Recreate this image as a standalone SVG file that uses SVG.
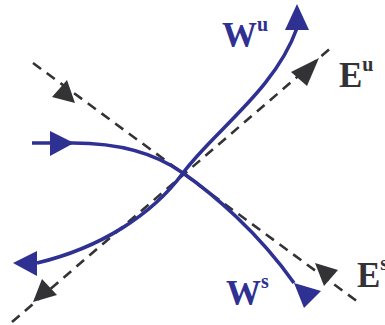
<svg xmlns="http://www.w3.org/2000/svg" width="385" height="325" viewBox="0 0 385 325">
<style>
.dash{fill:none;stroke:#333336;stroke-width:2.6;stroke-dasharray:10 7}
.curve{fill:none;stroke:#2e3192;stroke-width:3.6;stroke-linecap:butt}
.ah-d{fill:#333336}
.ah-b{fill:#2e3192}
.lbl{font-family:"Liberation Serif","Times New Roman",serif;font-weight:bold}
.blue{fill:#2e3192}
.gray{fill:#333336}
</style>
<rect width="385" height="325" fill="#ffffff"/>
<g id="connectors">
<line id="Eu-line" class="dash" x1="12" y1="322" x2="332" y2="47"/>
<line id="Es-line" class="dash" x1="33" y1="63" x2="358" y2="302"/>
<polygon class="ah-d" points="319,58 291,72 307,86"/>
<polygon class="ah-d" points="33,302 42,279 57,295"/>
<polygon class="ah-d" points="75,103 67,80 52,97"/>
<polygon class="ah-d" points="315,263 338,270 324,286"/>
<path id="Wu-curve" class="curve" d="M37,263 C100,248 152,215 183,173 C214,131 275,90 297,28"/>
<path id="Ws-curve" class="curve" d="M32,143 L73,143 C120,143 155,153 183,173 C213,194 258,232 294,283"/>
<polygon class="ah-b" points="297,4 285,30 309,30"/>
<polygon class="ah-b" points="13,263 37,251 37,276"/>
<polygon class="ah-b" points="74,143 50,131 50,156"/>
<polygon class="ah-b" points="294,283 321,291 304,308"/>
</g>
<g id="Wu-label"><text class="lbl blue" x="222" y="47" font-size="35">W<tspan font-size="20" dy="-16">u</tspan></text></g>
<g id="Eu-label"><text class="lbl gray" x="339" y="87" font-size="35">E<tspan font-size="20" dy="-16">u</tspan></text></g>
<g id="Ws-label"><text class="lbl blue" x="226" y="305" font-size="35">W<tspan font-size="20" dy="-17">s</tspan></text></g>
<g id="Es-label"><text class="lbl gray" x="357" y="287" font-size="35">E<tspan font-size="20" dy="-17">s</tspan></text></g>
</svg>
